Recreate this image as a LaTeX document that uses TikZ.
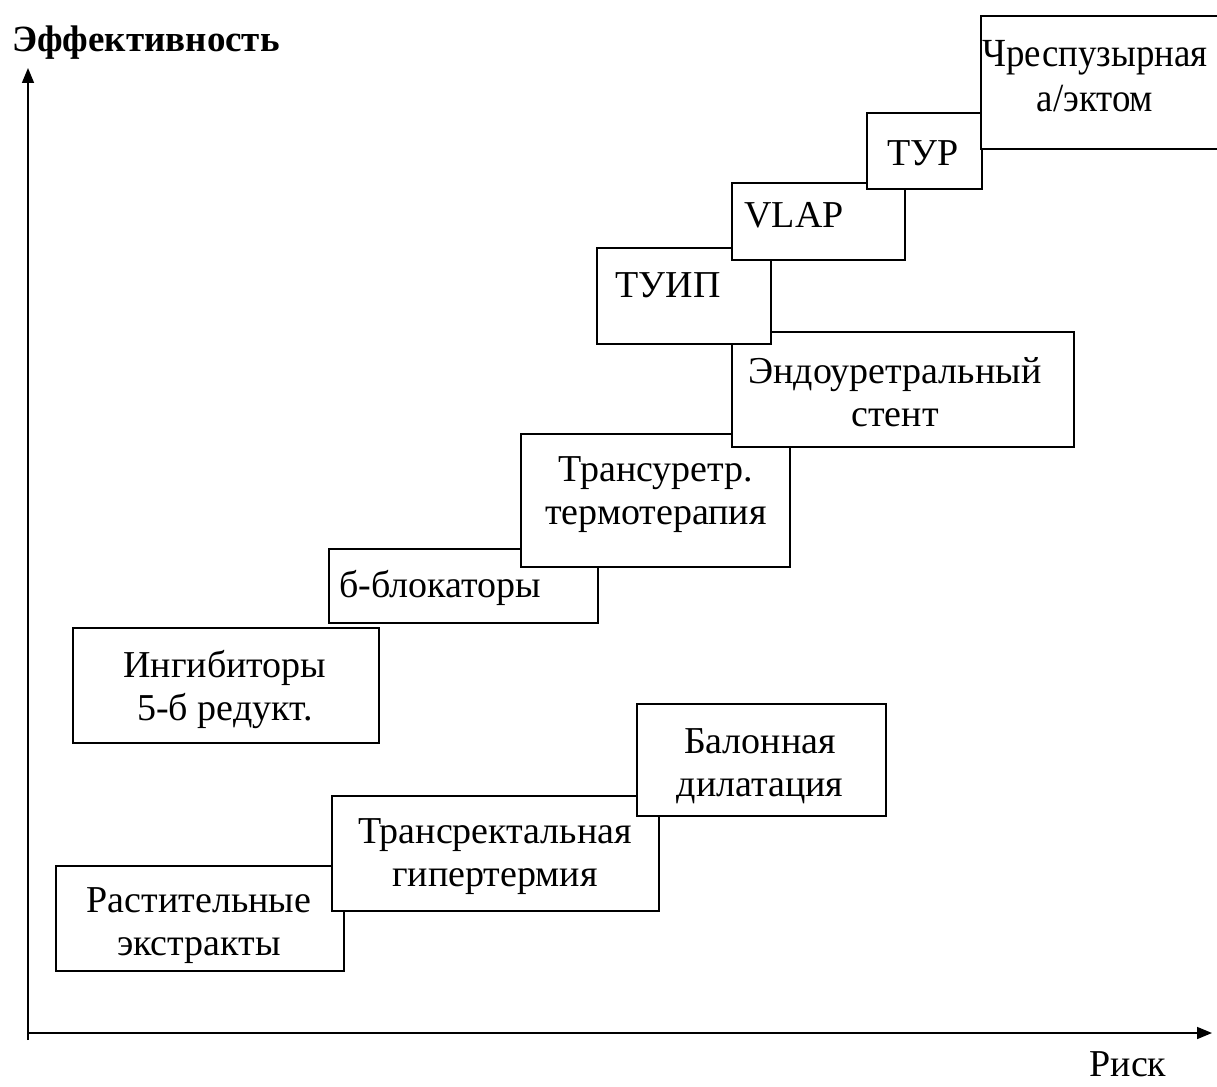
\documentclass[tikz,border=0pt]{standalone}
\usepackage{fontspec}
\setmainfont{Liberation Serif}
\usetikzlibrary{arrows.meta}

\begin{document}
\begin{tikzpicture}[x=1pt, y=-1pt,
    stage/.style={draw, fill=white, line width=1.6pt, anchor=north west, inner sep=0pt},
    stagetext/.style={align=center, font=\fontsize{38}{43}\selectfont, inner sep=0pt},
    axis/.style={line width=1.6pt, -{Triangle[length=15pt, width=12pt]}}]
  \useasboundingbox (0,0) rectangle (1217,1086);
  \clip (0,0) rectangle (1217,1086);
  % axes
  \coordinate (ybot) at (28,1040);
  \coordinate (ytop) at (28,68);
  \coordinate (xbeg) at (28,1033);
  \coordinate (xend) at (1212,1033);
  \draw[axis] (ybot) -- (ytop);
  \draw[axis] (xbeg) -- (xend);
  \node[stagetext, font=\bfseries\fontsize{37}{43}\selectfont, anchor=base west] (eff) at (12,52) {Эффективность};
  \node[stagetext, anchor=base] (risk) at (1128,1076) {Риск};
  % lower row
  \node[stage, minimum width=288, minimum height=105] (rast) at (55,865) {};
  \node[stagetext] (rasttext) at (199,926) {Растительные\\экстракты};
  \node[stage, minimum width=327, minimum height=115] (rect) at (331,795) {};
  \node[stagetext] (recttext) at (495,857) {Трансректальная\\гипертермия};
  \node[stage, minimum width=249, minimum height=112] (balon) at (636,703) {};
  \node[stagetext] (balontext) at (760,766) {Балонная\\дилатация};
  % upper row
  \node[stage, minimum width=306, minimum height=115] (ingib) at (72,627) {};
  \node[stagetext] (ingibtext) at (225,689) {Ингибиторы\\5-б редукт.};
  \node[stage, minimum width=269, minimum height=74] (block) at (328,548) {};
  \node[stagetext] (blocktext) at (440,588) {б-блокаторы};
  \node[stage, minimum width=269, minimum height=133] (turet) at (520,433) {};
  \node[stagetext] (turettext) at (656,495) {Трансуретр.\\термотерапия};
  \node[stage, minimum width=342, minimum height=115] (endo) at (731,331) {};
  \node[stagetext] (endotext) at (895,392) {Эндоуретральный\\стент};
  \node[stage, minimum width=174, minimum height=96] (tuip) at (596,247) {};
  \node[stagetext] (tuiptext) at (668,285) {ТУИП};
  \node[stage, minimum width=173, minimum height=77] (vlap) at (731,182) {};
  \node[stagetext] (vlaptext) at (794,215) {VLAP};
  \node[stage, minimum width=115, minimum height=76] (tur) at (866,112) {};
  \node[stagetext] (turtext) at (923,153) {ТУР};
  \node[stage, minimum width=260, minimum height=133] (chresp) at (980,15) {};
  \node[stagetext, xscale=0.97, yscale=1.05, transform shape] (chresptext) at (1095,76) {Чреспузырная\\а/эктом};
\end{tikzpicture}
\end{document}
